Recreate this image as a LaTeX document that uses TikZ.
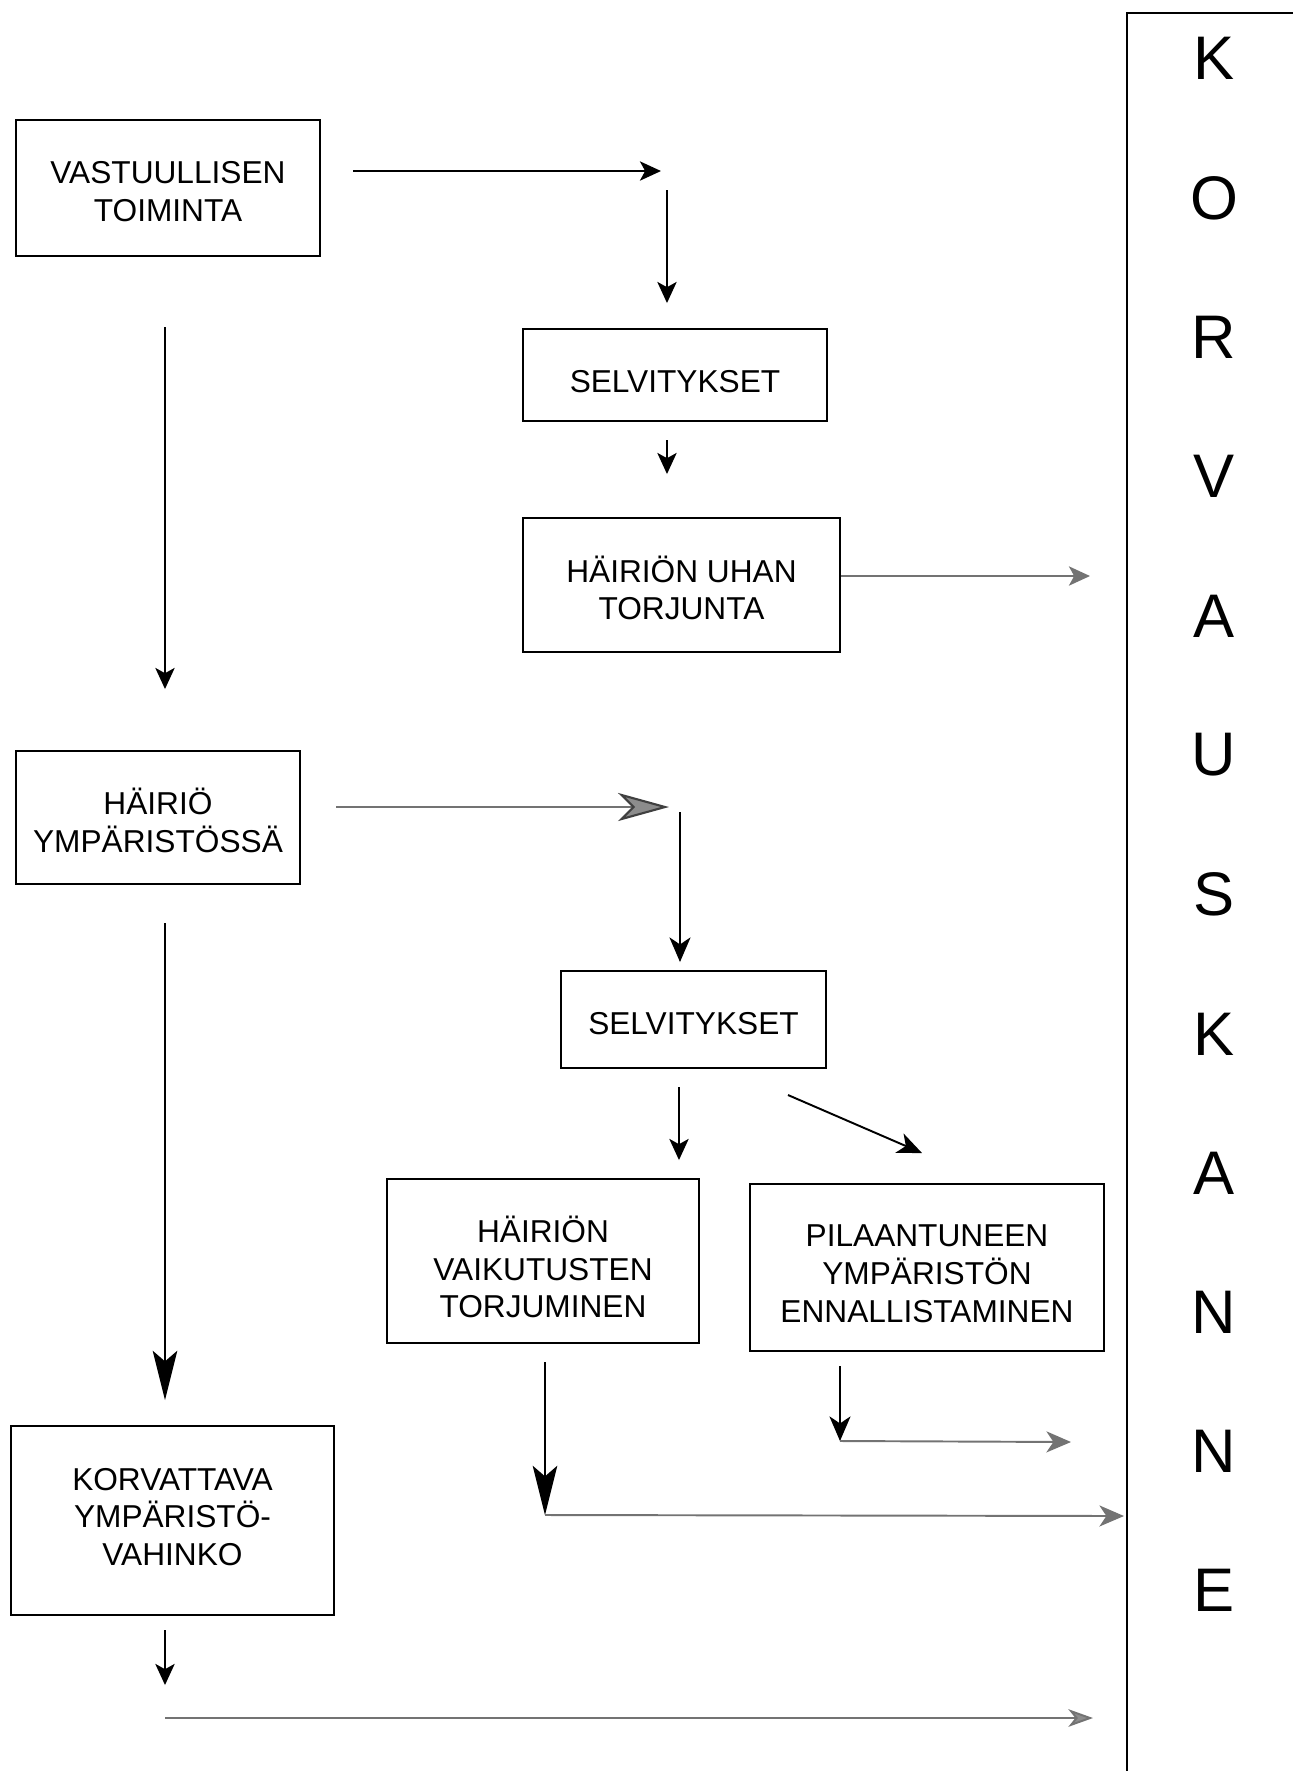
\documentclass[tikz,border=0pt]{standalone}
\usepackage{fontspec}
\setmainfont{Liberation Sans}
\usetikzlibrary{arrows.meta}
\newcommand{\up}[1]{\rule{0pt}{#1}}
\newcommand{\dn}{\rule[-3pt]{0pt}{0pt}}
\begin{document}
\begin{tikzpicture}[x=0.01cm,y=-0.01cm,
    box/.style={draw,line width=0.5pt,align=center,inner sep=0pt,
      font=\fontsize{9}{10.7}\selectfont},
    letter/.style={font=\fontsize{17.5}{18}\selectfont},
    arr/.style={line width=0.55pt,-{Stealth[length=6pt,width=5.5pt,inset=1.5pt]}},
    midarr/.style={line width=0.55pt,-{Stealth[length=7pt,width=6pt,inset=2pt]}},
    bigarr/.style={line width=0.6pt,-{Stealth[length=14pt,width=7pt,inset=3pt]}},
    pale/.style={draw=black!55}]
  \useasboundingbox (0,0) rectangle (1293,1771);
  \draw
    (168,188) node[box,minimum width=3.04cm,minimum height=1.36cm] (vast) {\up{11.4pt}VASTUULLISEN\\TOIMINTA\dn}
    (675,375) node[box,minimum width=3.04cm,minimum height=0.92cm] (selv1) {\up{13.2pt}SELVITYKSET\dn}
    (681.5,585) node[box,minimum width=3.17cm,minimum height=1.34cm] (uhan) {\up{12pt}HÄIRIÖN UHAN\\TORJUNTA\dn}
    (158,817.5) node[box,minimum width=2.84cm,minimum height=1.33cm] (hairio) {\up{12.2pt}HÄIRIÖ\\YMPÄRISTÖSSÄ\dn}
    (693.5,1019.5) node[box,minimum width=2.65cm,minimum height=0.97cm] (selv2) {\up{11.4pt}SELVITYKSET\dn}
    (543,1261) node[box,minimum width=3.12cm,minimum height=1.64cm] (vaik) {\up{13.8pt}HÄIRIÖN\\VAIKUTUSTEN\\TORJUMINEN\dn}
    (927,1267.5) node[box,minimum width=3.54cm,minimum height=1.67cm] (pila) {\up{12.6pt}PILAANTUNEEN\\YMPÄRISTÖN\\ENNALLISTAMINEN\dn}
    (172.5,1520.5) node[box,minimum width=3.23cm,minimum height=1.89cm] (korv) {\up{7.2pt}KORVATTAVA\\YMPÄRISTÖ-\\VAHINKO\dn};
  \draw
    (1214,58) node[letter] (l1) {K}
    (1214,198) node[letter] (l2) {O}
    (1214,337) node[letter] (l3) {R}
    (1214,476) node[letter] (l4) {V}
    (1214,616) node[letter] (l5) {A}
    (1214,755) node[letter] (l6) {U}
    (1214,894) node[letter] (l7) {S}
    (1214,1034) node[letter] (l8) {K}
    (1214,1173) node[letter] (l9) {A}
    (1214,1312) node[letter] (l10) {N}
    (1214,1451) node[letter] (l11) {N}
    (1214,1590) node[letter] (l12) {E};
  \draw[line width=0.6pt] (1293,13) -- (1127,13) -- (1127,1771);
  \path
    (353,171) coordinate (p1s) (661,171) coordinate (p1e)
    (667,190) coordinate (p2s) (667,303) coordinate (p2e)
    (667,440) coordinate (p3s) (667,474) coordinate (p3e)
    (1090,576) coordinate (p4e)
    (165,327) coordinate (p5s) (165,689) coordinate (p5e)
    (336,807) coordinate (p6s) (669,807) coordinate (p6e)
    (680,812) coordinate (p7s) (680,962) coordinate (p7e)
    (679,1087) coordinate (p8s) (679,1160) coordinate (p8e)
    (788,1095) coordinate (p9s) (922,1153) coordinate (p9e)
    (545,1362) coordinate (p10s) (545,1515) coordinate (p10e)
    (1124,1516) coordinate (p11e)
    (840,1366) coordinate (p12s) (840,1441) coordinate (p12e)
    (1071,1442) coordinate (p13e)
    (165,923) coordinate (p14s) (165,1400) coordinate (p14e)
    (165,1630) coordinate (p15s) (165,1685) coordinate (p15e)
    (165,1718) coordinate (p16s) (1093,1718) coordinate (p16e);
  \begin{scope}[arr]
    \draw (p1s) to (p1e);
    \draw (p2s) to (p2e);
    \draw (p3s) to (p3e);
    \draw[pale] (uhan.east |- p4e) to (p4e);
    \draw (p5s) to (p5e);
    \draw[pale,line width=0.6pt,-{Stealth[length=14.5pt,width=8pt,inset=4pt,fill=black!45,color=black!75]}] (p6s) to (p6e);
    \draw[midarr] (p7s) to (p7e);
    \draw (p8s) to (p8e);
    \draw[midarr] (p9s) to (p9e);
    \draw[bigarr] (p10s) to (p10e);
    \draw[pale,midarr] (p10e) to (p11e);
    \draw[midarr] (p12s) to (p12e);
    \draw[pale,midarr] (p12e) to (p13e);
    \draw[bigarr] (p14s) to (p14e);
    \draw (p15s) to (p15e);
    \draw[pale,-{Stealth[length=7pt,width=5pt,inset=2pt,fill=black!45]}] (p16s) to (p16e);
  \end{scope}
\end{tikzpicture}
\end{document}
